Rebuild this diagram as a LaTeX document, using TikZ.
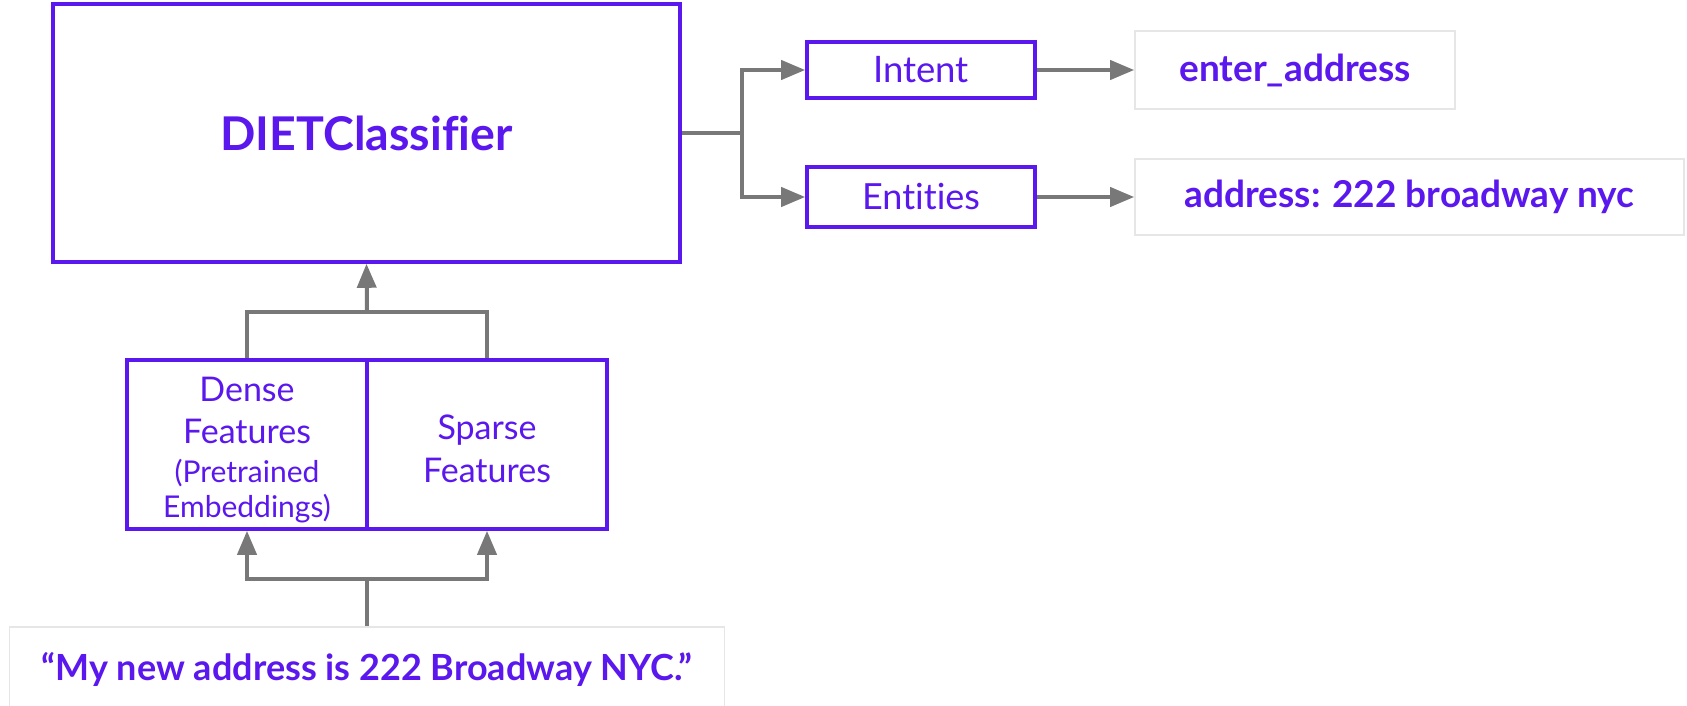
\documentclass[tikz,border=0pt]{standalone}
\usepackage{fontspec}
\setmainfont{Lato}[Ligatures=NoCommon]
\usetikzlibrary{arrows.meta,calc}

\definecolor{rasa}{HTML}{5A17EE}
\definecolor{wire}{HTML}{787878}
\definecolor{faint}{HTML}{E6E6E6}

% one centred line of fixed height/depth, so line pitch is exact
\newcommand{\fixedrow}[3]{\smash{#3}\vrule height #1 depth #2 width 0pt}

\tikzset{
  x=1pt, y=-1pt,
  block/.style={draw=rasa, line width=3.6pt, text=rasa, align=center,
    inner sep=0pt, rectangle},
  outbox/.style={draw=faint, line width=1.6pt, fill=white, text=rasa,
    align=center, inner sep=0pt, rectangle,
    font=\fontsize{37}{42}\selectfont\bfseries},
  wireline/.style={draw=wire, line width=4pt},
  arr/.style={wireline, -{Triangle[length=24pt,width=19pt]}},
}

\begin{document}
\begin{tikzpicture}
  \useasboundingbox[fill=white] (0,0) rectangle (1687,706);

  % main classifier
  \node[block, minimum width=627pt, minimum height=258pt,
        font=\fontsize{46.5}{52}\selectfont\bfseries] (diet) at (366.5,133) {DIETClassifier};

  % outputs
  \node[block, minimum width=228pt, minimum height=56pt,
        font=\fontsize{36.5}{40}\selectfont] (intent) at (921,70) {Intent};
  \node[block, minimum width=228pt, minimum height=60pt,
        font=\fontsize{36}{40}\selectfont] (entities) at (921,197) {Entities};

  \node[outbox, minimum width=320pt, minimum height=78pt] (label) at (1295,70) {enter\_address};
  \node[outbox, minimum width=549pt, minimum height=76pt] (ents) at (1409.5,197) {address: 222 broadway nyc};

  % featurizers
  \node[block, minimum width=240pt, minimum height=169pt] (dense) at (247,444.5)
    {\vbox{\offinterlineskip\halign{\hfil#\hfil\cr
      \fixedrow{39.5pt}{0pt}{\fontsize{34}{40}\selectfont Dense}\cr
      \fixedrow{42pt}{0pt}{\fontsize{34}{40}\selectfont Features}\cr
      \fixedrow{39pt}{0pt}{\fontsize{30}{36}\selectfont (Pretrained}\cr
      \fixedrow{34.5pt}{10pt}{\fontsize{30}{36}\selectfont Embeddings)}\cr}}};
  \node[block, minimum width=240pt, minimum height=169pt] (sparse) at (487,444.5)
    {\vbox{\offinterlineskip\halign{\hfil#\hfil\cr
      \fixedrow{37pt}{0pt}{\fontsize{34}{40}\selectfont Sparse}\cr
      \fixedrow{43pt}{5pt}{\fontsize{34}{40}\selectfont Features}\cr}}};

  % input sentence
  \node[outbox, minimum width=715pt, minimum height=84pt,
        font=\fontsize{36}{40}\selectfont\bfseries] (sent) at (367,669)
    {“My new address is 222 Broadway NYC.”};

  % junction points
  \coordinate (split) at (742,133);
  \coordinate (merge) at (367,312);
  \coordinate (fan) at (367,579);

  % connectors
  \draw[wireline] (diet.east) -- (split);
  \draw[arr] (split) |- (intent.west);
  \draw[arr] (split) |- (entities.west);
  \draw[arr] (intent.east) -- (label.west);
  \draw[arr] (entities.east) -- (ents.west);

  \draw[wireline] (dense.north) |- (merge) -| (sparse.north);
  \draw[arr] (merge) -- (diet.south);

  \draw[wireline] (sent.north) -- (fan);
  \draw[arr] (fan) -| (dense.south);
  \draw[arr] (fan) -| (sparse.south);
\end{tikzpicture}
\end{document}
